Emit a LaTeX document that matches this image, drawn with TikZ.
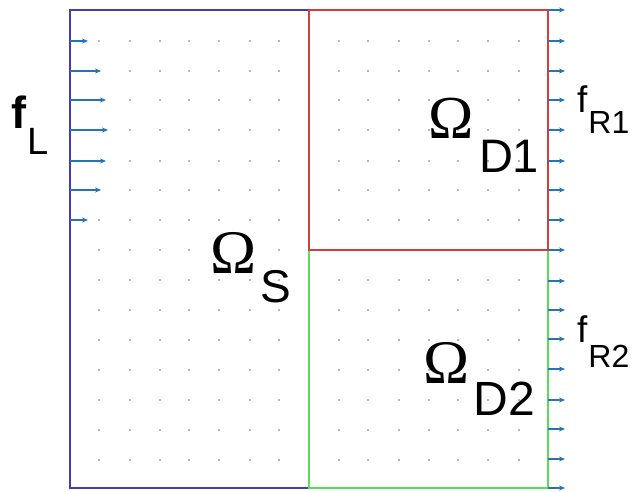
\documentclass[tikz,border=0pt]{standalone}
\usepackage{fontspec}
\setmainfont{Liberation Sans}
\newfontfamily\omfont{Liberation Serif}
\usetikzlibrary{arrows.meta}
\definecolor{boxblue}{RGB}{70,60,175}
\definecolor{boxred}{RGB}{215,60,60}
\definecolor{boxgreen}{RGB}{90,220,90}
\definecolor{arrblue}{RGB}{40,115,180}
\definecolor{dotgray}{RGB}{110,110,110}
\tikzset{
  region/.style={line width=1.4pt},
  force/.style={arrblue, line width=1.2pt, -{Stealth[length=6pt,width=5pt]}},
  gdot/.style={fill=dotgray, draw=none},
  lbl/.style={anchor=base west, inner sep=0pt, text=black},
}
\begin{document}
\begin{tikzpicture}[x=1pt,y=-1pt]
\useasboundingbox[fill=white] (0,0) rectangle (634,491);
% grid dots
\foreach \y in {41,71,100,130,161,190,220,250,280,310,340,370,400,430,460}{
  \foreach \x in {99,130,160,189,219,250,279}{
    \fill[gdot] (\x,\y) circle (0.9);
  }
}
\foreach \y in {41,71,100,130,161,190,220,280,310,340,370,400,430,460}{
  \foreach \x in {339,368,399,429,458,488,519}{
    \fill[gdot] (\x,\y) circle (0.9);
  }
}
% regions
\coordinate (s1) at (70,10);
\coordinate (s2) at (309,488);
\coordinate (d1a) at (309,10);
\coordinate (d1b) at (548,250);
\coordinate (d2a) at (309,250);
\coordinate (d2b) at (548,488);
\draw[region, boxblue] (s1) rectangle (s2);
\draw[region, boxgreen] (d2a) rectangle (d2b);
\draw[region, boxred] (d1a) rectangle (d1b);
% left inflow arrows
\foreach \y/\l in {41/18,71/31,100/36,130/38,161/36,190/31,220/18}{
  \coordinate (la) at (70,\y);
  \coordinate (lb) at (70+\l,\y);
  \draw[force] (la) -- (lb);
}
% right outflow arrows
\foreach \y in {10,41,71,100,130,161,190,220,250,281,310,339,369,400,429,459,488}{
  \coordinate (ra) at (548,\y);
  \coordinate (rb) at (565,\y);
  \draw[force] (ra) -- (rb);
}
% labels
\node[lbl] (fL) at (11,128) {\fontsize{45}{45}\selectfont\bfseries f\hspace{1pt}\raisebox{-26pt}{\mdseries\fontsize{38}{38}\selectfont L}};
\node[lbl] (OS) at (210,273) {{\omfont\fontsize{62}{62}\selectfont Ω}\hspace{4pt}\raisebox{-29pt}{\fontsize{46}{46}\selectfont S}};
\node[lbl] (OD1) at (428,138) {{\omfont\fontsize{61}{61}\selectfont Ω}\hspace{5.5pt}\raisebox{-34pt}{\fontsize{47}{47}\selectfont D1}};
\node[lbl] (OD2) at (423,383) {{\omfont\fontsize{62}{62}\selectfont Ω}\hspace{4.5pt}\raisebox{-32pt}{\fontsize{48}{48}\selectfont D2}};
\node[lbl] (fR1) at (577,112) {\fontsize{37}{37}\selectfont f\hspace{1pt}\raisebox{-21pt}{\fontsize{32}{32}\selectfont R1}};
\node[lbl] (fR2) at (577,342) {\fontsize{37}{37}\selectfont f\hspace{1pt}\raisebox{-25pt}{\fontsize{32}{32}\selectfont R2}};
\end{tikzpicture}
\end{document}
